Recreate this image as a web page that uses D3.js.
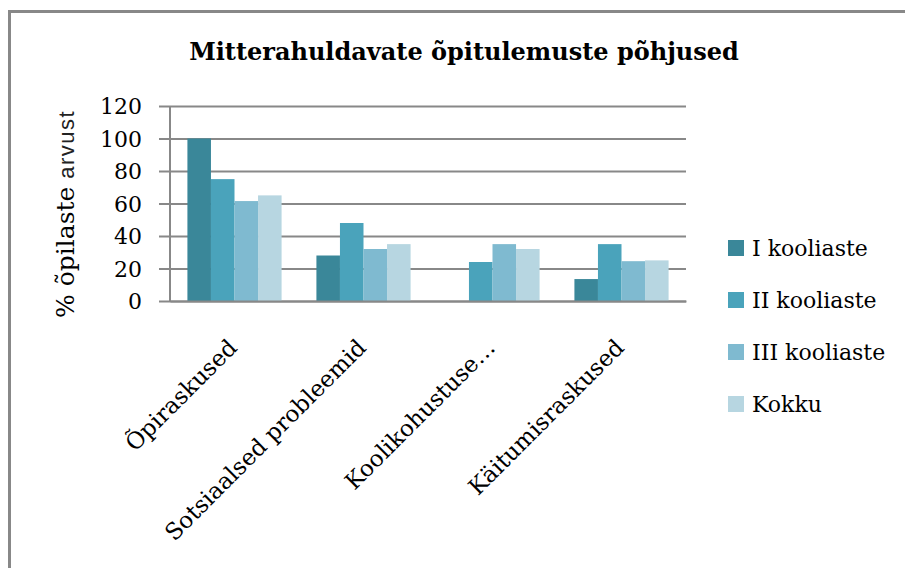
<!DOCTYPE html>
<html>
<head>
<meta charset="utf-8">
<script src="https://d3js.org/d3.v7.min.js"></script>
<style>
  html, body { margin: 0; background: #fff; overflow: hidden; }
  svg { display: block; }
  text { font-family: "DejaVu Serif", "Liberation Serif", serif; fill: #000; }
</style>
</head>
<body>
<script>
// data
var categories = ["Õpiraskused", "Sotsiaalsed probleemid", "Koolikohustuse…", "Käitumisraskused"];
var seriesNames = ["I kooliaste", "II kooliaste", "III kooliaste", "Kokku"];
var series1 = [100, 28, 0, 13.5];
var series2 = [75, 48, 24, 35];
var series3 = [61.5, 32, 35, 24.5];
var series4 = [65, 35, 32, 25];
var yTicks = [0, 20, 40, 60, 80, 100, 120];
var colors = ["#3a8799", "#4aa3bb", "#7fbad0", "#b7d6e1"];

var allSeries = [series1, series2, series3, series4];

var svgWidth = 905;
var svgHeight = 568;

var margin = { top: 106, left: 170 };
var width = 516;
var height = 195;

var svg = d3.select("body")
  .append("svg")
  .attr("width", svgWidth)
  .attr("height", svgHeight);

// outer frame: only left and top edges show in the picture
svg.append("path")
  .attr("d", `M9.5,${svgHeight} V11.5 H${svgWidth}`)
  .attr("fill", "none")
  .attr("stroke", "#888")
  .attr("stroke-width", 3);

svg.append("text")
  .attr("x", 464)
  .attr("y", 60)
  .attr("text-anchor", "middle")
  .style("font-weight", "bold")
  .style("font-size", "24px")
  .text("Mitterahuldavate õpitulemuste põhjused");

var chartGroup = svg.append("g")
  .attr("transform", `translate(${margin.left}, ${margin.top})`);

var xScale = d3.scaleBand()
  .domain(categories)
  .range([0, width])
  .paddingInner(0.27)
  .paddingOuter(0.135);

var xSub = d3.scaleBand()
  .domain(d3.range(seriesNames.length))
  .range([0, xScale.bandwidth()]);

var yScale = d3.scaleLinear()
  .domain([0, 120])
  .range([height, 0]);

// gridlines + y ticks
var yAxis = d3.axisLeft(yScale)
  .tickValues(yTicks)
  .tickSize(-width)
  .tickPadding(28)
  .tickFormat(d3.format("d"));

var yG = chartGroup.append("g").call(yAxis);
yG.select(".domain").remove();
yG.selectAll(".tick line")
  .attr("x1", -11)
  .attr("stroke", "#888")
  .attr("stroke-width", 2);
yG.selectAll(".tick text")
  .style("font-size", "22px")
  .attr("dy", "0.36em");

// bars
allSeries.forEach(function(values, i) {
  chartGroup.selectAll(".bar" + i)
    .data(values)
    .enter()
    .append("rect")
    .attr("class", "bar" + i)
    .attr("x", (d, j) => xScale(categories[j]) + xSub(i))
    .attr("y", d => yScale(d))
    .attr("width", xSub.bandwidth())
    .attr("height", d => height - yScale(d))
    .attr("fill", colors[i]);
});

// axis lines
chartGroup.append("line")
  .attr("x1", 0).attr("x2", 0)
  .attr("y1", 0).attr("y2", height)
  .attr("stroke", "#888")
  .attr("stroke-width", 2);

var xAxis = d3.axisBottom(xScale).tickSize(0).tickPadding(0);
var xG = chartGroup.append("g")
  .attr("transform", `translate(0, ${height})`)
  .call(xAxis);
xG.select(".domain")
  .attr("stroke", "#888")
  .attr("stroke-width", 2);
xG.selectAll(".tick text")
  .style("font-size", "23px")
  .attr("text-anchor", "end")
  .attr("y", 0)
  .attr("dy", 0)
  .attr("transform", "translate(4, 48) rotate(-45)");

// y axis title
var yTitle = svg.append("text")
  .attr("transform", "translate(74, 318) rotate(-90)")
  .attr("text-anchor", "start");
yTitle.append("tspan")
  .style("font-size", "25px")
  .text("% õpilaste ");
yTitle.append("tspan")
  .style("font-family", "'Liberation Sans', Arial, sans-serif")
  .style("font-size", "22px")
  .style("letter-spacing", "1.5px")
  .style("fill", "#222")
  .text("arvust");

// legend
var legend = svg.append("g")
  .selectAll("g")
  .data(seriesNames)
  .enter()
  .append("g")
  .attr("transform", (d, i) => `translate(728, ${248 + i * 52})`);

legend.append("rect")
  .attr("x", 0)
  .attr("y", -8)
  .attr("width", 16)
  .attr("height", 16)
  .attr("fill", (d, i) => colors[i]);

legend.append("text")
  .attr("x", 24)
  .attr("y", 0)
  .attr("dy", "0.36em")
  .style("font-size", "22px")
  .text(d => d);
</script>
</body>
</html>
